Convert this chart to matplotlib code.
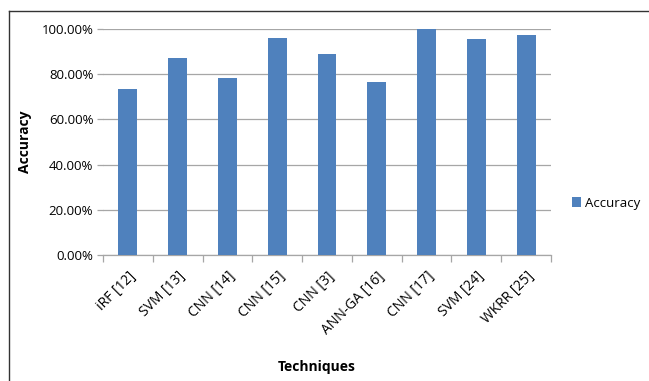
import matplotlib.pyplot as plt
import numpy as np
from matplotlib.lines import Line2D
from matplotlib.ticker import FuncFormatter

plt.rcParams['font.family'] = ['Open Sans', 'DejaVu Sans']

techniques = ["iRF [12]", "SVM [13]", "CNN [14]", "CNN [15]", "CNN [3]",
              "ANN-GA [16]", "CNN [17]", "SVM [24]", "WKRR [25]"]
accuracy = [73.3, 87.2, 78.3, 95.9, 88.8, 76.4, 100.0, 95.6, 97.2]
yticks = [0, 20, 40, 60, 80, 100]

fig = plt.figure(figsize=(6.49, 3.81), dpi=100)
ax = fig.add_axes([0.1587, 0.3307, 0.8490 - 0.1587, 0.9239 - 0.3307])

x = np.arange(len(techniques))
ax.bar(x, accuracy, width=0.38, color='#4f81bd', label='Accuracy', zorder=3)

ax.set_xlim(-0.5, len(techniques) - 0.5)
ax.set_ylim(0, 100)
ax.set_yticks(yticks)
ax.yaxis.set_major_formatter(FuncFormatter(lambda v, p: f"{v:.2f}%"))
ax.grid(axis='y', color='#a6a6a6', linewidth=0.9, zorder=0)

# category labels in the middle, tick marks on the boundaries
ax.set_xticks(x)
ax.set_xticklabels(techniques, rotation=45, ha='right', rotation_mode='anchor',
                   fontsize=10)
ax.set_xticks(np.arange(len(techniques) + 1) - 0.5, minor=True)
ax.tick_params(axis='x', which='major', length=0, pad=10)
ax.tick_params(axis='x', which='minor', length=5, color='#a6a6a6', width=0.9)
ax.tick_params(axis='y', length=4, color='#a6a6a6', width=0.9, labelsize=9.5,
               pad=3)

for side in ['left', 'top', 'right']:
    ax.spines[side].set_visible(False)
ax.spines['bottom'].set_color('#a6a6a6')
ax.spines['bottom'].set_linewidth(0.9)

ax.set_ylabel('Accuracy', fontsize=10, fontweight='bold', labelpad=7)
fig.text(317 / 649, 1 - 367 / 381, 'Techniques', fontsize=10,
         fontweight='bold', ha='center', va='center')

ax.legend(loc='center left', bbox_to_anchor=(1.02, 0.23), frameon=False,
          fontsize=9.5, handlelength=0.7, handleheight=0.7, handletextpad=0.3)

# outer frame: left and top edges only
fig.add_artist(Line2D([9 / 649, 9 / 649], [0, 1 - 11 / 381],
                      transform=fig.transFigure, color='#333333', linewidth=1))
fig.add_artist(Line2D([9 / 649, 1], [1 - 11 / 381, 1 - 11 / 381],
                      transform=fig.transFigure, color='#333333', linewidth=1))

fig.savefig('out.png', dpi=100)
